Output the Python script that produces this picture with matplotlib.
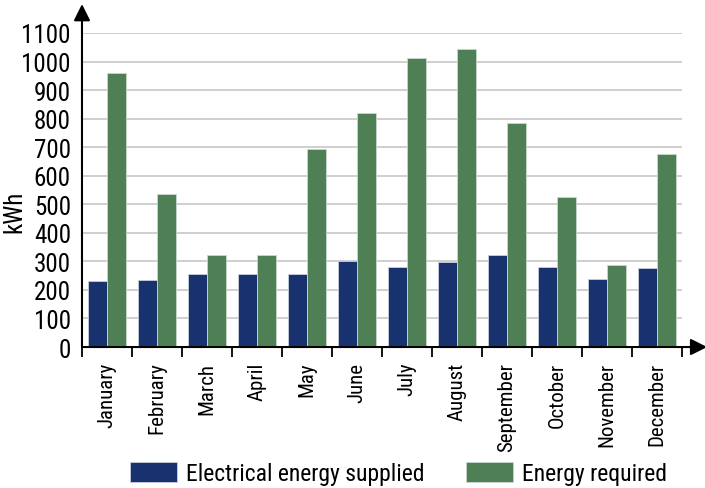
import matplotlib
matplotlib.use("Agg")
import matplotlib.pyplot as plt
from matplotlib import font_manager
import numpy as np

months = ["January", "February", "March", "April", "May", "June", "July",
          "August", "September", "October", "November", "December"]
supplied = [230, 235, 255, 255, 255, 300, 281, 299, 323, 279, 239, 277]
required = [960, 537, 323, 323, 695, 820, 1013, 1044, 785, 524, 288, 677]

# pick a condensed font if one is around
names = {f.name for f in font_manager.fontManager.ttflist}
font = "Roboto"
for cand in ["Roboto Condensed", "Liberation Sans Narrow", "DejaVu Sans Condensed"]:
    if cand in names:
        font = cand
        break
plt.rcParams['font.family'] = [font, 'DejaVu Sans']

blue = "#18326f"
green = "#4f8055"

fig = plt.figure(figsize=(7.05, 4.89), dpi=100)
ax = fig.add_axes([0.1163, 0.2883, 0.851, 0.6422])

x = np.arange(len(months))
w = 0.38
ax.bar(x - w/2, supplied, w, color=blue, edgecolor="#c9d0dd", linewidth=0.6,
       label="Electrical energy supplied", zorder=3)
ax.bar(x + w/2, required, w, color=green, edgecolor="#c9d8cb", linewidth=0.6,
       label="Energy required", zorder=3)

ax.set_xlim(-0.5, 11.5)
ax.set_ylim(0, 1100)
ax.set_yticks(range(0, 1101, 100))
ax.yaxis.grid(True, color="#cccccc", lw=1.3, zorder=0)
ax.tick_params(axis='y', length=0, labelsize=18, pad=8)

ax.set_xticks(x)
ax.set_xticklabels(months, rotation=90, fontsize=15)
ax.tick_params(axis='x', which='major', length=0, pad=10.5)
ax.set_xticks(np.arange(-0.5, 12, 1), minor=True)
ax.tick_params(axis='x', which='minor', length=7, width=1.3, direction='out')

for s in ax.spines.values():
    s.set_visible(False)

# axis lines with arrow heads
ax.annotate("", xy=(0, 1.092), xytext=(0, 0), xycoords='axes fraction',
            arrowprops=dict(arrowstyle='-|>', lw=1.5, color='black',
                            mutation_scale=25, shrinkA=0, shrinkB=0),
            annotation_clip=False)
ax.annotate("", xy=(1.042, 0), xytext=(0, 0), xycoords='axes fraction',
            arrowprops=dict(arrowstyle='-|>', lw=1.5, color='black',
                            mutation_scale=25, shrinkA=0, shrinkB=0),
            annotation_clip=False)

ax.set_ylabel("kWh", fontsize=18)
ax.yaxis.set_label_coords(-0.092, 0.435)

fig.legend(loc='center', bbox_to_anchor=(0.565, 0.029), ncol=2,
           frameon=False, fontsize=17, handlelength=2.0, handleheight=0.9,
           columnspacing=1.75, handletextpad=0.38)

fig.savefig("out.png", dpi=100)
